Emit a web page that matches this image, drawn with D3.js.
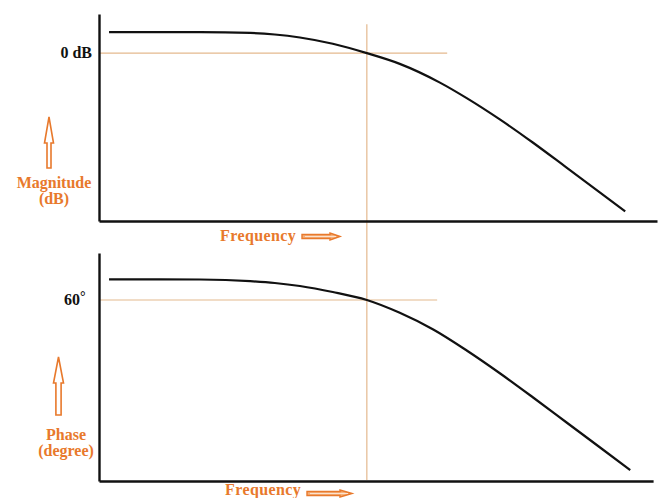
<!DOCTYPE html>
<html>
<head>
<meta charset="utf-8">
<script src="https://cdn.jsdelivr.net/npm/d3@7"></script>
<style>
  html, body { margin: 0; padding: 0; background: #fff; }
  svg { display: block; }
  .lbl { font-family: "Liberation Serif", "Times New Roman", serif; font-weight: bold; }
</style>
</head>
<body>
<svg id="chart" width="661" height="498"></svg>
<script>
// Normalised frequency (0–100) and the response read at each point
const magFreq   = [1.8, 10.9, 18.1, 27.1, 31.5, 36.0, 41.9, 48.0, 53.9, 61.1, 65.9, 71.9, 77.8, 83.8, 89.8, 94.3];
const magDb     = [3.0, 3.0, 3.0, 2.89, 2.67, 2.24, 1.34, 0.0, -1.53, -4.21, -6.43, -9.51, -12.81, -16.37, -19.94, -22.63];
const phaseFreq = [1.8, 10.9, 18.1, 27.1, 31.5, 36.0, 41.9, 48.0, 53.9, 59.9, 65.9, 71.9, 77.8, 83.8, 89.8, 95.2];
const phaseDeg  = [70.35, 70.35, 70.25, 69.4, 68.5, 67.0, 64.0, 60.0, 53.6, 45.25, 34.75, 23.25, 11.25, -1.25, -13.75, -25.1];

// Reference markers: cutoff frequency, 0 dB level and 60° phase level
const cutoffFreq = [48.0];
const magRefDb = [0];
const magRefLabel = ["0 dB"];
const phaseRefDeg = [60];
const phaseRefLabel = ["60"];
const magRefEnd = [62.4];
const phaseRefEnd = [60.6];

// Axis extents and captions
const freqDomain = [0, 100];
const magDomain = [-24, 5.6];
const phaseDomain = [-30.5, 83.5];
const phaseAxisEnd = [99.3];
const magCaption = ["Magnitude", "(dB)"];
const phaseCaption = ["Phase", "(degree)"];
const freqCaption = ["Frequency"];

const ORANGE = "#e8792c";
const ORANGE_LIGHT = "#f6b27c";
const GUIDE = "#e4b98e";

const svg = d3.select("#chart");

const x = d3.scaleLinear().domain(freqDomain).range([99, 657]);
const yMag = d3.scaleLinear().domain(magDomain).range([221, 14]);
const yPh = d3.scaleLinear().domain(phaseDomain).range([481, 253]);

// ---- guide lines (drawn under the curves) ----
const guides = svg.append("g").attr("stroke", GUIDE).attr("stroke-width", 1.2).attr("fill", "none");
guides.append("line")
  .attr("x1", x(cutoffFreq[0])).attr("x2", x(cutoffFreq[0]))
  .attr("y1", yMag(4.15)).attr("y2", yPh(-30));
guides.append("line")
  .attr("x1", x(0)).attr("x2", x(magRefEnd[0]))
  .attr("y1", yMag(magRefDb[0])).attr("y2", yMag(magRefDb[0]));
guides.append("line")
  .attr("x1", x(0)).attr("x2", x(phaseRefEnd[0]))
  .attr("y1", yPh(phaseRefDeg[0])).attr("y2", yPh(phaseRefDeg[0]));

// ---- axes: plain lines, no ticks ----
function plainAxis(g) {
  g.selectAll(".tick").remove();
  g.select(".domain").attr("stroke", "#111").attr("stroke-width", 2.4);
}
svg.append("g").attr("transform", `translate(${x(0)},0)`)
  .call(d3.axisLeft(yMag).ticks(0).tickSizeOuter(0)).call(plainAxis);
svg.append("g").attr("transform", `translate(0,${yMag(magDomain[0])})`)
  .call(d3.axisBottom(x).ticks(0).tickSizeOuter(0)).call(plainAxis);

const xPh = x.copy().domain([0, phaseAxisEnd[0]]).range([x(0), x(phaseAxisEnd[0])]);
svg.append("g").attr("transform", `translate(${x(0)},0)`)
  .call(d3.axisLeft(yPh).ticks(0).tickSizeOuter(0)).call(plainAxis);
svg.append("g").attr("transform", `translate(0,${yPh(phaseDomain[0])})`)
  .call(d3.axisBottom(xPh).ticks(0).tickSizeOuter(0)).call(plainAxis);

// ---- response curves ----
const magLine = d3.line().x(d => x(d[0])).y(d => yMag(d[1])).curve(d3.curveMonotoneX);
const phLine = d3.line().x(d => x(d[0])).y(d => yPh(d[1])).curve(d3.curveMonotoneX);

svg.append("path").datum(d3.zip(magFreq, magDb))
  .attr("d", magLine).attr("fill", "none").attr("stroke", "#111").attr("stroke-width", 2.2);
svg.append("path").datum(d3.zip(phaseFreq, phaseDeg))
  .attr("d", phLine).attr("fill", "none").attr("stroke", "#111").attr("stroke-width", 2.2);

// ---- level labels ----
svg.append("text").attr("class", "lbl")
  .attr("x", 92).attr("y", yMag(magRefDb[0]) + 5)
  .attr("text-anchor", "end").attr("font-size", 16).attr("fill", "#111")
  .text(magRefLabel[0]);

const t60 = svg.append("text").attr("class", "lbl")
  .attr("x", 64).attr("y", yPh(phaseRefDeg[0]) + 5)
  .attr("font-size", 16).attr("fill", "#111");
t60.append("tspan").text(phaseRefLabel[0]);
t60.append("tspan").attr("dy", -4).attr("font-size", 14).text("°");

// ---- orange captions ----
function captions(lines, cx, y0, dy) {
  const t = svg.append("text").attr("class", "lbl")
    .attr("font-size", 16).attr("fill", ORANGE).attr("text-anchor", "middle");
  lines.forEach((s, i) => t.append("tspan").attr("x", cx).attr("y", y0 + i * dy).text(s));
}
captions(magCaption, 54, 188, 16);
captions(phaseCaption, 66, 440, 16);

svg.append("text").attr("class", "lbl").attr("x", 220).attr("y", 241)
  .attr("font-size", 16).attr("fill", ORANGE).attr("letter-spacing", 0.4).text(freqCaption[0]);
svg.append("text").attr("class", "lbl").attr("x", 225).attr("y", 495)
  .attr("font-size", 16).attr("fill", ORANGE).attr("letter-spacing", 0.4).text(freqCaption[0]);

// hollow block arrows
function upArrow(cx, tip, headBase, bottom, headHalf, shaftHalf) {
  const p = d3.path();
  p.moveTo(cx, tip);
  p.lineTo(cx + headHalf, headBase);
  p.lineTo(cx + shaftHalf, headBase);
  p.lineTo(cx + shaftHalf, bottom);
  p.lineTo(cx - shaftHalf, bottom);
  p.lineTo(cx - shaftHalf, headBase);
  p.lineTo(cx - headHalf, headBase);
  p.closePath();
  svg.append("path").attr("d", p.toString())
    .attr("fill", "#fff").attr("stroke", ORANGE).attr("stroke-width", 1.6).attr("stroke-linejoin", "miter");
}
function rightArrow(x0, headBase, tip, cy, headHalf, shaftHalf) {
  const p = d3.path();
  p.moveTo(tip, cy);
  p.lineTo(headBase, cy - headHalf);
  p.lineTo(headBase, cy - shaftHalf);
  p.lineTo(x0, cy - shaftHalf);
  p.lineTo(x0, cy + shaftHalf);
  p.lineTo(headBase, cy + shaftHalf);
  p.lineTo(headBase, cy + headHalf);
  p.closePath();
  svg.append("path").attr("d", p.toString())
    .attr("fill", ORANGE_LIGHT).attr("stroke", ORANGE).attr("stroke-width", 1.4);
  svg.append("line").attr("x1", x0 + 3).attr("x2", tip - 4).attr("y1", cy).attr("y2", cy)
    .attr("stroke", "#fff").attr("stroke-width", 0.8).attr("opacity", 0.8);
}
upArrow(49, 117, 143, 168, 4.5, 2);
upArrow(58.5, 357, 383, 415, 5, 2.6);
rightArrow(302, 330, 340, 236.5, 3.5, 2);
rightArrow(307, 340, 352, 493.5, 3.5, 2);
</script>
</body>
</html>
